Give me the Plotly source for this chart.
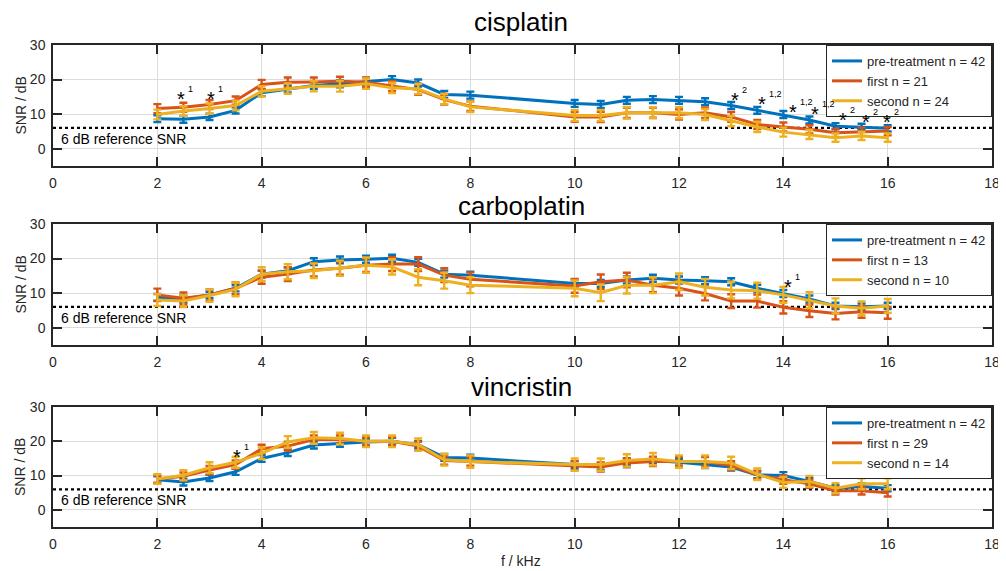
import plotly.graph_objects as go

# ---------------- data ----------------
freqs = [2, 2.5, 3, 3.5, 4, 4.5, 5, 5.5, 6, 6.5, 7, 7.5, 8,
         10, 10.5, 11, 11.5, 12, 12.5, 13, 13.5, 14, 14.5, 15, 15.5, 16]

series_names = ["pre-treatment", "first", "second"]
series_colors = ["#0072BD", "#D95319", "#EDB120"]

panel_titles = ["cisplatin", "carboplatin", "vincristin"]
panel_n = [[42, 21, 24], [42, 13, 10], [42, 29, 14]]

# cisplatin
cis_pre = [8.7, 8.5, 9.2, 11.1, 16.2, 17.3, 18.3, 18.8, 19.5, 20.0, 19.0, 15.7, 15.5,
           13.1, 12.8, 14.0, 14.2, 14.0, 13.6, 12.5, 11.1, 9.9, 8.3, 6.5, 6.3, 5.9]
cis_first = [11.6, 12.0, 12.8, 13.9, 18.6, 19.2, 19.3, 19.5, 19.2, 18.1, 17.1, 14.2, 12.3,
             9.2, 9.2, 10.4, 10.4, 9.9, 10.4, 9.2, 7.0, 6.3, 5.6, 4.6, 4.9, 5.1]
cis_second = [9.9, 10.9, 11.6, 12.5, 16.6, 17.4, 18.1, 18.1, 18.8, 17.6, 17.3, 14.4, 12.1,
              9.6, 9.6, 10.4, 10.4, 10.4, 9.9, 8.0, 6.3, 4.8, 4.1, 3.2, 3.7, 3.2]
cis_pre_err = [1.0, 1.0, 0.9, 0.9, 1.0, 1.0, 1.0, 1.0, 1.0, 1.0, 1.0, 1.0, 1.0,
               1.0, 1.0, 1.0, 1.0, 1.0, 1.0, 1.0, 1.0, 1.0, 1.0, 0.9, 0.9, 0.9]
cis_first_err = [1.3, 1.3, 1.3, 1.2, 1.3, 1.4, 1.3, 1.3, 1.4, 1.4, 1.5, 1.4, 1.4,
                 1.4, 1.5, 1.5, 1.4, 1.5, 1.5, 1.4, 1.3, 1.3, 1.2, 1.2, 1.2, 1.2]
cis_second_err = [1.4, 1.4, 1.5, 1.4, 1.5, 1.5, 1.5, 1.6, 1.5, 1.5, 1.5, 1.5, 1.5,
                  1.6, 1.6, 1.7, 1.6, 1.6, 1.6, 1.5, 1.5, 1.3, 1.3, 1.2, 1.2, 1.2]

# carboplatin
carbo_pre = [8.8, 8.3, 9.5, 11.4, 15.5, 16.5, 19.1, 19.6, 19.8, 20.1, 18.9, 15.5, 15.2,
             12.8, 12.8, 13.8, 14.3, 13.8, 13.6, 13.3, 11.4, 9.9, 8.3, 6.3, 6.1, 6.3]
carbo_first = [9.5, 8.5, 9.5, 11.4, 14.6, 15.5, 16.7, 17.2, 18.1, 18.4, 18.4, 15.2, 14.0,
               12.1, 13.3, 13.8, 12.3, 11.4, 9.9, 7.7, 7.7, 5.9, 4.9, 4.1, 4.6, 4.3]
carbo_second = [8.0, 7.7, 9.3, 11.1, 15.5, 16.2, 16.5, 17.2, 18.1, 17.6, 14.6, 13.6, 12.3,
                11.4, 10.1, 12.3, 12.3, 13.3, 11.7, 10.9, 10.7, 9.5, 8.0, 6.3, 5.6, 6.3]
carbo_pre_err = [1.0, 1.0, 0.9, 0.9, 1.0, 1.0, 1.0, 1.0, 1.0, 1.0, 1.0, 1.0, 1.0,
                 1.0, 1.0, 1.0, 1.0, 1.0, 1.0, 1.0, 1.0, 1.0, 1.0, 0.9, 0.9, 0.9]
carbo_first_err = [1.8, 1.7, 1.6, 1.7, 1.9, 2.0, 1.9, 1.9, 2.0, 2.0, 2.0, 2.0, 2.0,
                   2.0, 2.1, 2.1, 2.0, 2.1, 2.0, 2.0, 1.9, 1.8, 1.8, 1.7, 1.7, 1.7]
carbo_second_err = [1.7, 1.7, 1.8, 2.0, 2.0, 2.2, 2.1, 2.2, 2.2, 2.2, 2.3, 2.3, 2.3,
                    2.3, 2.4, 2.4, 2.3, 2.4, 2.4, 2.4, 2.3, 2.3, 2.3, 2.2, 2.0, 2.0]

# vincristin
vinc_pre = [8.8, 8.1, 9.3, 11.1, 15.0, 16.7, 18.9, 19.4, 19.8, 20.0, 19.0, 15.3, 15.1,
            13.2, 12.7, 14.1, 14.4, 13.9, 13.2, 12.5, 10.2, 10.0, 8.3, 6.3, 6.8, 6.3]
vinc_first = [9.0, 9.8, 11.6, 13.2, 17.8, 18.6, 20.5, 20.5, 20.0, 20.0, 18.6, 14.4, 14.1,
              12.9, 12.5, 13.7, 14.1, 14.1, 14.1, 12.9, 10.2, 8.8, 7.6, 5.6, 5.6, 5.0]
vinc_second = [9.0, 10.1, 12.3, 13.9, 16.5, 19.8, 21.0, 20.8, 20.0, 20.0, 19.0, 14.6, 14.1,
               13.2, 13.2, 14.4, 14.8, 14.1, 14.1, 13.7, 10.4, 8.0, 8.3, 6.3, 7.6, 7.6]
vinc_pre_err = [1.0, 1.0, 0.9, 0.9, 1.0, 1.0, 1.0, 1.0, 1.0, 1.0, 1.0, 1.0, 1.0,
                1.0, 1.0, 1.0, 1.0, 1.0, 1.0, 1.0, 1.0, 1.0, 1.0, 0.9, 0.9, 0.9]
vinc_first_err = [1.1, 1.1, 1.2, 1.2, 1.2, 1.3, 1.2, 1.2, 1.2, 1.2, 1.3, 1.2, 1.2,
                  1.3, 1.3, 1.3, 1.3, 1.3, 1.3, 1.3, 1.2, 1.2, 1.2, 1.1, 1.1, 1.1]
vinc_second_err = [1.4, 1.5, 1.6, 1.6, 1.7, 1.7, 1.7, 1.7, 1.7, 1.7, 1.8, 1.7, 1.8,
                   1.8, 1.8, 1.8, 1.8, 1.8, 1.8, 1.8, 1.7, 1.6, 1.6, 1.5, 1.6, 1.6]

panel_values = [[cis_pre, cis_first, cis_second],
                [carbo_pre, carbo_first, carbo_second],
                [vinc_pre, vinc_first, vinc_second]]
panel_errors = [[cis_pre_err, cis_first_err, cis_second_err],
                [carbo_pre_err, carbo_first_err, carbo_second_err],
                [vinc_pre_err, vinc_first_err, vinc_second_err]]

# significance markers: x (kHz), y (dB), superscript label
cis_star_x = [2.45, 3.03, 13.07, 13.6, 14.19, 14.6, 15.14, 15.58, 15.98]
cis_star_y = [15.3, 15.3, 15.1, 13.7, 11.6, 10.8, 9.2, 8.6, 8.6]
cis_star_lbl = ["1", "1", "2", "1,2", "1,2", "1,2", "2", "2", "2"]
carbo_star_x = [14.09]
carbo_star_y = [12.6]
carbo_star_lbl = ["1"]
vinc_star_x = [3.52]
vinc_star_y = [16.3]
vinc_star_lbl = ["1"]
panel_stars = [(cis_star_x, cis_star_y, cis_star_lbl),
               (carbo_star_x, carbo_star_y, carbo_star_lbl),
               (vinc_star_x, vinc_star_y, vinc_star_lbl)]

ref_x = [0, 18]
ref_snr = 6
ref_label = "6 dB reference SNR"

x_ticks = [0, 2, 4, 6, 8, 10, 12, 14, 16, 18]
y_ticks = [0, 10, 20, 30]
x_range = [0, 18]
y_range = [-5, 30]

# ---------------- layout geometry ----------------
# the page body adds an 8px margin, so the figure is laid out in page pixels minus 8
OFF = 8
W, H = 998, 563
ML = 53 - OFF
MT = 45 - OFF
MR = W - (992 - OFF)
MB = H - (527 - OFF)
PH = H - MT - MB
PW = W - ML - MR
panel_px = [(45, 166), (224, 345), (407, 527)]  # top, bottom in page pixels
title_px = [22, 206, 387]                        # title centre, page pixels


def ypaper(py):
    return (H - MB - (py - OFF)) / PH


def xpaper(px):
    return ((px - OFF) - ML) / PW


FONT = "Liberation Sans, Arial, Helvetica, sans-serif"

fig = go.Figure()
annotations = []
layout_axes = {}

for p in range(3):
    xa = "x" if p == 0 else f"x{p + 1}"
    ya = "y" if p == 0 else f"y{p + 1}"
    leg = "legend" if p == 0 else f"legend{p + 1}"

    # reference line
    fig.add_trace(go.Scatter(
        x=ref_x, y=[ref_snr, ref_snr], mode="lines",
        line=dict(color="black", width=2.2, dash="dot"),
        showlegend=False, hoverinfo="skip", xaxis=xa, yaxis=ya))

    for s in range(3):
        fig.add_trace(go.Scatter(
            x=freqs, y=panel_values[p][s], mode="lines",
            name=f"{series_names[s]} n = {panel_n[p][s]}",
            line=dict(color=series_colors[s], width=3),
            error_y=dict(type="data", array=panel_errors[p][s], visible=True,
                         color=series_colors[s], thickness=2.4, width=4),
            xaxis=xa, yaxis=ya, legend=leg))

    top, bot = panel_px[p]
    dom = [ypaper(bot), ypaper(top)]
    axis_common = dict(showline=True, linecolor="#262626", linewidth=1.5,
                       mirror="ticks", ticks="inside", ticklen=9, tickwidth=2,
                       tickcolor="#262626", showgrid=True, gridcolor="#dcdcdc",
                       gridwidth=1, zeroline=False, automargin=False,
                       tickfont=dict(family=FONT, size=14, color="#262626"))
    xkey = "xaxis" if p == 0 else f"xaxis{p + 1}"
    ykey = "yaxis" if p == 0 else f"yaxis{p + 1}"
    layout_axes[xkey] = dict(axis_common, range=x_range, tickvals=x_ticks,
                             domain=[0, 1], anchor=ya, ticklabelstandoff=3)
    layout_axes[ykey] = dict(axis_common, range=y_range, tickvals=y_ticks,
                             domain=dom, anchor=xa, ticklabelstandoff=3)

    layout_axes[leg] = dict(x=1, xanchor="right", y=dom[1], yanchor="top",
                            xref="paper", yref="paper",
                            bgcolor="white", bordercolor="#262626", borderwidth=1,
                            font=dict(family=FONT, size=13, color="#262626"),
                            itemwidth=30, tracegroupgap=0)

    # panel title
    annotations.append(dict(text=panel_titles[p], xref="paper", yref="paper",
                            x=xpaper(521), y=ypaper(title_px[p]), xanchor="center",
                            yanchor="middle", showarrow=False,
                            font=dict(family=FONT, size=26, color="black")))
    # y axis title
    annotations.append(dict(text="SNR / dB", xref="paper", yref="paper",
                            x=xpaper(20), y=(dom[0] + dom[1]) / 2,
                            textangle=-90, xanchor="center", yanchor="middle",
                            showarrow=False,
                            font=dict(family=FONT, size=14, color="#262626")))
    # reference text
    annotations.append(dict(text=ref_label, xref=xa, yref=ya, x=0.12, y=ref_snr,
                            xanchor="left", yanchor="top", yshift=-1,
                            showarrow=False,
                            font=dict(family=FONT, size=14, color="black")))
    # significance stars
    sx, sy, sl = panel_stars[p]
    for xv, yv, lab in zip(sx, sy, sl):
        annotations.append(dict(text="*", xref=xa, yref=ya, x=xv, y=yv,
                                xanchor="center", yanchor="middle", yshift=-3,
                                showarrow=False,
                                font=dict(family=FONT, size=20, color="black")))
        annotations.append(dict(text=lab, xref=xa, yref=ya, x=xv, y=yv,
                                xanchor="left", yanchor="middle", xshift=5, yshift=7,
                                showarrow=False,
                                font=dict(family=FONT, size=9, color="black")))

annotations.append(dict(text="f / kHz", xref="paper", yref="paper",
                        x=xpaper(521), y=ypaper(561), xanchor="center", yanchor="middle",
                        showarrow=False,
                        font=dict(family=FONT, size=14, color="#262626")))

fig.update_layout(
    width=W, height=H,
    margin=dict(l=ML, r=MR, t=MT, b=MB),
    paper_bgcolor="white", plot_bgcolor="white",
    annotations=annotations,
    **layout_axes,
)

fig.write_html("out.html")
